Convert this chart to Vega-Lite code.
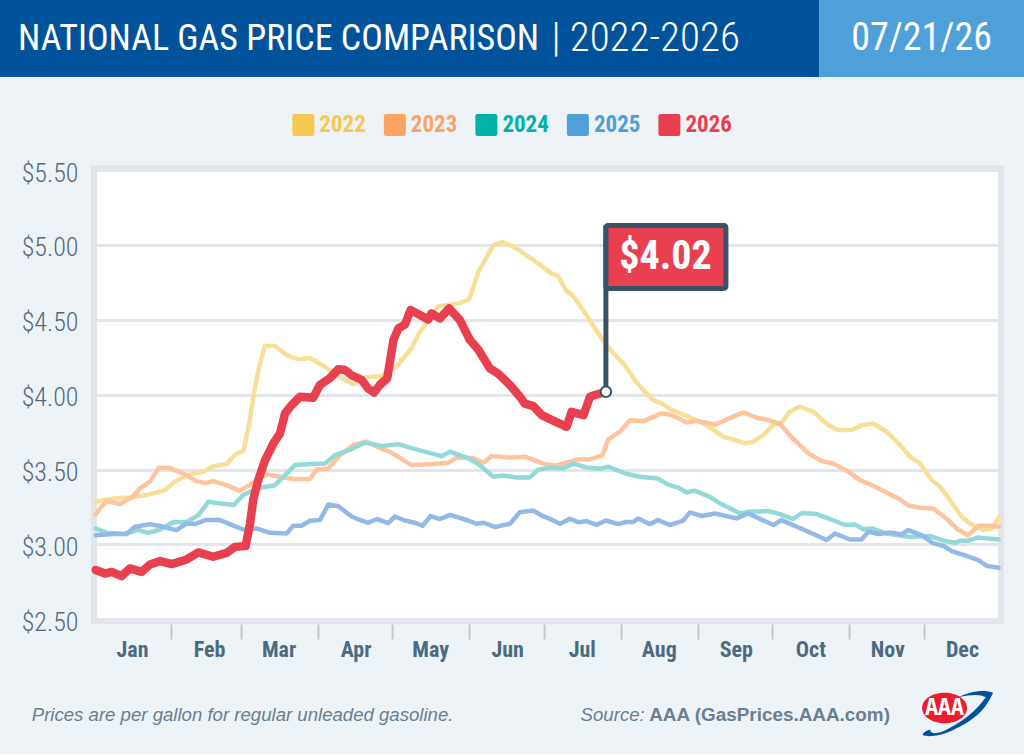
{
  "$schema": "https://vega.github.io/schema/vega-lite/v6.json",
  "description": "National gas price comparison, 2022-2026",
  "background": "#eef3f8",
  "padding": 0,
  "spacing": 0,
  "align": "none",
  "config": {"view": {"stroke": null}, "font": "Roboto Condensed"},
  "resolve": {"scale": {"color": "independent"}},
  "datasets": {
    "prices": [
      {"year":"2022","day":0.7,"price":3.285},{"year":"2022","day":7.7,"price":3.307},{"year":"2022","day":14.4,"price":3.314},{"year":"2022","day":21.2,"price":3.33},{"year":"2022","day":28.5,"price":3.363},{"year":"2022","day":32.6,"price":3.42},{"year":"2022","day":37.3,"price":3.463},{"year":"2022","day":44,"price":3.486},{"year":"2022","day":48,"price":3.523},{"year":"2022","day":53.4,"price":3.537},{"year":"2022","day":56.7,"price":3.6},{"year":"2022","day":60.1,"price":3.626},{"year":"2022","day":62,"price":3.764},{"year":"2022","day":64.8,"price":4.05},{"year":"2022","day":66.8,"price":4.21},{"year":"2022","day":68.8,"price":4.325},{"year":"2022","day":72.8,"price":4.325},{"year":"2022","day":77.5,"price":4.265},{"year":"2022","day":82.2,"price":4.236},{"year":"2022","day":86.9,"price":4.245},{"year":"2022","day":93,"price":4.187},{"year":"2022","day":97.6,"price":4.13},{"year":"2022","day":104.4,"price":4.07},{"year":"2022","day":109.7,"price":4.116},{"year":"2022","day":115.8,"price":4.125},{"year":"2022","day":121.8,"price":4.19},{"year":"2022","day":127.8,"price":4.31},{"year":"2022","day":130.5,"price":4.4},{"year":"2022","day":138.5,"price":4.59},{"year":"2022","day":146.6,"price":4.61},{"year":"2022","day":151,"price":4.637},{"year":"2022","day":154.7,"price":4.82},{"year":"2022","day":157.4,"price":4.9},{"year":"2022","day":160.7,"price":5.0},{"year":"2022","day":164.7,"price":5.018},{"year":"2022","day":170,"price":4.978},{"year":"2022","day":176.7,"price":4.9},{"year":"2022","day":184.1,"price":4.81},{"year":"2022","day":186.8,"price":4.79},{"year":"2022","day":190.1,"price":4.695},{"year":"2022","day":192.9,"price":4.66},{"year":"2022","day":198.2,"price":4.53},{"year":"2022","day":204.3,"price":4.376},{"year":"2022","day":209,"price":4.276},{"year":"2022","day":213,"price":4.21},{"year":"2022","day":217.7,"price":4.098},{"year":"2022","day":221.7,"price":4.02},{"year":"2022","day":225.1,"price":3.964},{"year":"2022","day":228.4,"price":3.942},{"year":"2022","day":232.4,"price":3.898},{"year":"2022","day":239.8,"price":3.85},{"year":"2022","day":246.5,"price":3.797},{"year":"2022","day":253.2,"price":3.72},{"year":"2022","day":257.3,"price":3.7},{"year":"2022","day":262,"price":3.675},{"year":"2022","day":265.3,"price":3.686},{"year":"2022","day":269.3,"price":3.73},{"year":"2022","day":273.4,"price":3.797},{"year":"2022","day":277,"price":3.82},{"year":"2022","day":280,"price":3.886},{"year":"2022","day":284,"price":3.92},{"year":"2022","day":289.5,"price":3.886},{"year":"2022","day":295.5,"price":3.797},{"year":"2022","day":299.5,"price":3.764},{"year":"2022","day":304.9,"price":3.764},{"year":"2022","day":309,"price":3.797},{"year":"2022","day":313.6,"price":3.808},{"year":"2022","day":319,"price":3.753},{"year":"2022","day":325,"price":3.653},{"year":"2022","day":328.4,"price":3.586},{"year":"2022","day":332.4,"price":3.541},{"year":"2022","day":337.1,"price":3.43},{"year":"2022","day":340.5,"price":3.386},{"year":"2022","day":344.5,"price":3.296},{"year":"2022","day":349.2,"price":3.185},{"year":"2022","day":352.5,"price":3.14},{"year":"2022","day":357.9,"price":3.096},{"year":"2022","day":361.3,"price":3.107},{"year":"2022","day":364.3,"price":3.185},
      {"year":"2023","day":0.7,"price":3.2},{"year":"2023","day":2.4,"price":3.24},{"year":"2023","day":5.1,"price":3.29},{"year":"2023","day":10.5,"price":3.27},{"year":"2023","day":15.8,"price":3.32},{"year":"2023","day":18.5,"price":3.374},{"year":"2023","day":22.5,"price":3.42},{"year":"2023","day":25.9,"price":3.51},{"year":"2023","day":30.6,"price":3.51},{"year":"2023","day":36,"price":3.474},{"year":"2023","day":41.3,"price":3.423},{"year":"2023","day":44.7,"price":3.41},{"year":"2023","day":48,"price":3.423},{"year":"2023","day":53.4,"price":3.396},{"year":"2023","day":58.7,"price":3.358},{"year":"2023","day":62.8,"price":3.4},{"year":"2023","day":69.5,"price":3.468},{"year":"2023","day":74.8,"price":3.452},{"year":"2023","day":80.2,"price":3.437},{"year":"2023","day":86.9,"price":3.437},{"year":"2023","day":89.6,"price":3.5},{"year":"2023","day":94.3,"price":3.508},{"year":"2023","day":99,"price":3.597},{"year":"2023","day":104.4,"price":3.664},{"year":"2023","day":109.7,"price":3.686},{"year":"2023","day":115,"price":3.645},{"year":"2023","day":119,"price":3.62},{"year":"2023","day":127.8,"price":3.53},{"year":"2023","day":135.2,"price":3.535},{"year":"2023","day":142.6,"price":3.546},{"year":"2023","day":145.9,"price":3.58},{"year":"2023","day":152.7,"price":3.575},{"year":"2023","day":156.7,"price":3.546},{"year":"2023","day":160,"price":3.59},{"year":"2023","day":167.4,"price":3.58},{"year":"2023","day":173.5,"price":3.586},{"year":"2023","day":180.8,"price":3.54},{"year":"2023","day":185.5,"price":3.526},{"year":"2023","day":194.9,"price":3.568},{"year":"2023","day":199.6,"price":3.568},{"year":"2023","day":204.6,"price":3.595},{"year":"2023","day":206.9,"price":3.7},{"year":"2023","day":211.6,"price":3.753},{"year":"2023","day":215.7,"price":3.83},{"year":"2023","day":221,"price":3.824},{"year":"2023","day":228.4,"price":3.875},{"year":"2023","day":232.4,"price":3.864},{"year":"2023","day":238.5,"price":3.815},{"year":"2023","day":242.5,"price":3.826},{"year":"2023","day":249.9,"price":3.8},{"year":"2023","day":253.9,"price":3.83},{"year":"2023","day":261.3,"price":3.882},{"year":"2023","day":266.7,"price":3.846},{"year":"2023","day":270.7,"price":3.835},{"year":"2023","day":276.1,"price":3.804},{"year":"2023","day":280.8,"price":3.715},{"year":"2023","day":287.5,"price":3.608},{"year":"2023","day":292.8,"price":3.557},{"year":"2023","day":297.5,"price":3.54},{"year":"2023","day":303.6,"price":3.486},{"year":"2023","day":308.3,"price":3.43},{"year":"2023","day":313.6,"price":3.392},{"year":"2023","day":319.7,"price":3.34},{"year":"2023","day":324.4,"price":3.3},{"year":"2023","day":327.7,"price":3.26},{"year":"2023","day":332.4,"price":3.245},{"year":"2023","day":337.8,"price":3.24},{"year":"2023","day":343.8,"price":3.163},{"year":"2023","day":347.1,"price":3.107},{"year":"2023","day":351.8,"price":3.062},{"year":"2023","day":355.9,"price":3.125},{"year":"2023","day":359.9,"price":3.125},{"year":"2023","day":364.3,"price":3.118},
      {"year":"2024","day":0.7,"price":3.107},{"year":"2024","day":5.1,"price":3.078},{"year":"2024","day":11.8,"price":3.07},{"year":"2024","day":17.8,"price":3.096},{"year":"2024","day":21.9,"price":3.078},{"year":"2024","day":26.6,"price":3.1},{"year":"2024","day":32,"price":3.15},{"year":"2024","day":37.3,"price":3.15},{"year":"2024","day":42,"price":3.196},{"year":"2024","day":46,"price":3.285},{"year":"2024","day":50.7,"price":3.274},{"year":"2024","day":56.3,"price":3.263},{"year":"2024","day":60,"price":3.33},{"year":"2024","day":65.4,"price":3.374},{"year":"2024","day":72.8,"price":3.396},{"year":"2024","day":76.2,"price":3.452},{"year":"2024","day":80.9,"price":3.53},{"year":"2024","day":86.9,"price":3.537},{"year":"2024","day":93,"price":3.541},{"year":"2024","day":97,"price":3.597},{"year":"2024","day":103.7,"price":3.637},{"year":"2024","day":109,"price":3.68},{"year":"2024","day":116.4,"price":3.657},{"year":"2024","day":122.4,"price":3.67},{"year":"2024","day":128.5,"price":3.64},{"year":"2024","day":139.9,"price":3.59},{"year":"2024","day":143.2,"price":3.62},{"year":"2024","day":150,"price":3.58},{"year":"2024","day":154.7,"price":3.537},{"year":"2024","day":160.7,"price":3.452},{"year":"2024","day":164.7,"price":3.46},{"year":"2024","day":170,"price":3.448},{"year":"2024","day":175.4,"price":3.448},{"year":"2024","day":178.8,"price":3.5},{"year":"2024","day":183.5,"price":3.512},{"year":"2024","day":188.8,"price":3.508},{"year":"2024","day":192.9,"price":3.54},{"year":"2024","day":198.2,"price":3.514},{"year":"2024","day":203.6,"price":3.505},{"year":"2024","day":207,"price":3.519},{"year":"2024","day":213.7,"price":3.474},{"year":"2024","day":219.7,"price":3.452},{"year":"2024","day":227,"price":3.44},{"year":"2024","day":231,"price":3.4},{"year":"2024","day":235,"price":3.38},{"year":"2024","day":238.5,"price":3.347},{"year":"2024","day":241.8,"price":3.36},{"year":"2024","day":247.9,"price":3.318},{"year":"2024","day":251.9,"price":3.274},{"year":"2024","day":255.3,"price":3.247},{"year":"2024","day":260,"price":3.207},{"year":"2024","day":263.3,"price":3.218},{"year":"2024","day":271.4,"price":3.223},{"year":"2024","day":276.1,"price":3.203},{"year":"2024","day":281.4,"price":3.17},{"year":"2024","day":284.8,"price":3.21},{"year":"2024","day":290.8,"price":3.203},{"year":"2024","day":296.2,"price":3.17},{"year":"2024","day":302.2,"price":3.13},{"year":"2024","day":306.2,"price":3.134},{"year":"2024","day":309.6,"price":3.102},{"year":"2024","day":313,"price":3.107},{"year":"2024","day":319,"price":3.073},{"year":"2024","day":328.4,"price":3.05},{"year":"2024","day":336.5,"price":3.056},{"year":"2024","day":341.9,"price":3.025},{"year":"2024","day":346.5,"price":3.011},{"year":"2024","day":348.6,"price":3.025},{"year":"2024","day":351.8,"price":3.025},{"year":"2024","day":355.9,"price":3.047},{"year":"2024","day":364,"price":3.033},
      {"year":"2025","day":0.7,"price":3.062},{"year":"2025","day":7.7,"price":3.07},{"year":"2025","day":13.1,"price":3.07},{"year":"2025","day":16.5,"price":3.118},{"year":"2025","day":22.5,"price":3.136},{"year":"2025","day":27.9,"price":3.118},{"year":"2025","day":33.2,"price":3.096},{"year":"2025","day":37.3,"price":3.14},{"year":"2025","day":40.6,"price":3.136},{"year":"2025","day":44.7,"price":3.163},{"year":"2025","day":50.7,"price":3.163},{"year":"2025","day":60,"price":3.1},{"year":"2025","day":65.4,"price":3.107},{"year":"2025","day":70.8,"price":3.078},{"year":"2025","day":77.5,"price":3.073},{"year":"2025","day":80.2,"price":3.125},{"year":"2025","day":83.5,"price":3.125},{"year":"2025","day":86.9,"price":3.158},{"year":"2025","day":90.9,"price":3.163},{"year":"2025","day":94.3,"price":3.267},{"year":"2025","day":98.3,"price":3.255},{"year":"2025","day":103.7,"price":3.187},{"year":"2025","day":106.4,"price":3.167},{"year":"2025","day":110.4,"price":3.145},{"year":"2025","day":114,"price":3.17},{"year":"2025","day":118.4,"price":3.143},{"year":"2025","day":121.1,"price":3.187},{"year":"2025","day":125.1,"price":3.16},{"year":"2025","day":129.2,"price":3.145},{"year":"2025","day":132.2,"price":3.125},{"year":"2025","day":135.5,"price":3.19},{"year":"2025","day":139.2,"price":3.17},{"year":"2025","day":143.3,"price":3.198},{"year":"2025","day":150.6,"price":3.16},{"year":"2025","day":154,"price":3.138},{"year":"2025","day":156.9,"price":3.145},{"year":"2025","day":161.4,"price":3.116},{"year":"2025","day":167.4,"price":3.138},{"year":"2025","day":171.4,"price":3.216},{"year":"2025","day":176.8,"price":3.227},{"year":"2025","day":180.8,"price":3.187},{"year":"2025","day":183.5,"price":3.171},{"year":"2025","day":187.5,"price":3.138},{"year":"2025","day":191.5,"price":3.171},{"year":"2025","day":194.9,"price":3.149},{"year":"2025","day":198.2,"price":3.156},{"year":"2025","day":202.3,"price":3.131},{"year":"2025","day":206,"price":3.16},{"year":"2025","day":211,"price":3.136},{"year":"2025","day":214,"price":3.15},{"year":"2025","day":217,"price":3.15},{"year":"2025","day":219,"price":3.174},{"year":"2025","day":223.7,"price":3.136},{"year":"2025","day":227,"price":3.163},{"year":"2025","day":231.7,"price":3.13},{"year":"2025","day":237,"price":3.158},{"year":"2025","day":239.8,"price":3.214},{"year":"2025","day":244.5,"price":3.19},{"year":"2025","day":249.9,"price":3.207},{"year":"2025","day":258.6,"price":3.174},{"year":"2025","day":263.3,"price":3.207},{"year":"2025","day":273.4,"price":3.13},{"year":"2025","day":276.7,"price":3.163},{"year":"2025","day":287.5,"price":3.085},{"year":"2025","day":294.8,"price":3.03},{"year":"2025","day":298.2,"price":3.073},{"year":"2025","day":304.2,"price":3.033},{"year":"2025","day":308.9,"price":3.033},{"year":"2025","day":311.6,"price":3.085},{"year":"2025","day":315.6,"price":3.07},{"year":"2025","day":320.3,"price":3.08},{"year":"2025","day":325,"price":3.067},{"year":"2025","day":327.7,"price":3.096},{"year":"2025","day":333,"price":3.062},{"year":"2025","day":337.8,"price":3.007},{"year":"2025","day":341.9,"price":2.99},{"year":"2025","day":345.2,"price":2.955},{"year":"2025","day":349.9,"price":2.93},{"year":"2025","day":355.9,"price":2.895},{"year":"2025","day":359.3,"price":2.857},{"year":"2025","day":364,"price":2.844},
      {"year":"2026","day":0.7,"price":2.83},{"year":"2026","day":4.4,"price":2.806},{"year":"2026","day":7.1,"price":2.817},{"year":"2026","day":11.1,"price":2.788},{"year":"2026","day":14.5,"price":2.84},{"year":"2026","day":19.2,"price":2.817},{"year":"2026","day":22.5,"price":2.866},{"year":"2026","day":26.6,"price":2.889},{"year":"2026","day":31.3,"price":2.869},{"year":"2026","day":37.3,"price":2.9},{"year":"2026","day":42,"price":2.947},{"year":"2026","day":48,"price":2.918},{"year":"2026","day":53.4,"price":2.944},{"year":"2026","day":56.7,"price":2.984},{"year":"2026","day":61,"price":2.989},{"year":"2026","day":62.8,"price":3.14},{"year":"2026","day":64.1,"price":3.3},{"year":"2026","day":66.1,"price":3.43},{"year":"2026","day":68.8,"price":3.56},{"year":"2026","day":72.2,"price":3.675},{"year":"2026","day":74.8,"price":3.74},{"year":"2026","day":76.9,"price":3.875},{"year":"2026","day":79.5,"price":3.93},{"year":"2026","day":82.9,"price":3.987},{"year":"2026","day":88.2,"price":3.98},{"year":"2026","day":90.9,"price":4.065},{"year":"2026","day":94.9,"price":4.11},{"year":"2026","day":98.3,"price":4.17},{"year":"2026","day":101,"price":4.165},{"year":"2026","day":103.7,"price":4.13},{"year":"2026","day":107.7,"price":4.1},{"year":"2026","day":110.4,"price":4.04},{"year":"2026","day":112.7,"price":4.015},{"year":"2026","day":115,"price":4.065},{"year":"2026","day":118,"price":4.11},{"year":"2026","day":120.5,"price":4.365},{"year":"2026","day":122.5,"price":4.443},{"year":"2026","day":125.2,"price":4.47},{"year":"2026","day":127.4,"price":4.566},{"year":"2026","day":131.2,"price":4.532},{"year":"2026","day":134.5,"price":4.503},{"year":"2026","day":135.8,"price":4.543},{"year":"2026","day":139.2,"price":4.51},{"year":"2026","day":142.9,"price":4.577},{"year":"2026","day":147.2,"price":4.5},{"year":"2026","day":151.3,"price":4.365},{"year":"2026","day":154.7,"price":4.3},{"year":"2026","day":159.3,"price":4.176},{"year":"2026","day":162.7,"price":4.14},{"year":"2026","day":167.4,"price":4.065},{"year":"2026","day":171.4,"price":3.987},{"year":"2026","day":173.4,"price":3.94},{"year":"2026","day":176.8,"price":3.924},{"year":"2026","day":180.2,"price":3.864},{"year":"2026","day":183.5,"price":3.837},{"year":"2026","day":190.2,"price":3.786},{"year":"2026","day":192.2,"price":3.886},{"year":"2026","day":197,"price":3.864},{"year":"2026","day":199.6,"price":3.987},{"year":"2026","day":201.6,"price":3.998},{"year":"2026","day":206,"price":4.02}
    ],
    "latest": [{"day":206,"price":4.02,"flagTop":5.13,"flagBottom":4.71,"flagEnd":254.3,"labelDay":230,"labelPrice":4.92,"label":"$4.02"}],
    "banner": [{"part":"title","start":0,"end":0.8},{"part":"date","start":0.8,"end":1}],
    "years": [{"year":"2022"},{"year":"2023"},{"year":"2024"},{"year":"2025"},{"year":"2026"}]
  },
  "vconcat": [
    {
      "width": 930,
      "height": 77,
      "layer": [
        {
          "data": {"name": "banner"},
          "mark": {"type": "rect"},
          "encoding": {
            "x": {"field": "start", "type": "quantitative", "scale": {"domain": [0, 1], "range": [-94, 930]}, "axis": null},
            "x2": {"field": "end"},
            "color": {"field": "part", "type": "nominal", "scale": {"domain": ["title", "date"], "range": ["#00529b", "#4f9fd8"]}, "legend": null}
          }
        },
        {
          "data": {"values": [{"text": "NATIONAL GAS PRICE COMPARISON", "at": 0.0176}]},
          "mark": {"type": "text", "color": "white", "fontSize": 36, "align": "left"},
          "encoding": {"x": {"field": "at", "type": "quantitative", "scale": {"domain": [0, 1], "range": [-94, 930]}, "axis": null}, "text": {"field": "text"}}
        },
        {
          "data": {"values": [{"text": "| 2022-2026", "at": 0.5385}]},
          "mark": {"type": "text", "color": "white", "fontSize": 41, "fontWeight": 300, "align": "left"},
          "encoding": {"x": {"field": "at", "type": "quantitative", "scale": {"domain": [0, 1], "range": [-94, 930]}, "axis": null}, "text": {"field": "text"}}
        },
        {
          "data": {"values": [{"text": "07/21/26", "at": 0.9}]},
          "mark": {"type": "text", "color": "white", "fontSize": 38, "align": "center"},
          "encoding": {"x": {"field": "at", "type": "quantitative", "scale": {"domain": [0, 1], "range": [-94, 930]}, "axis": null}, "text": {"field": "text"}}
        }
      ]
    },
    {
      "width": 930,
      "height": 80,
      "data": {"name": "years"},
      "encoding": {
        "x": {"field": "year", "type": "quantitative", "scale": {"domain": [2018.685, 2029.875], "range": [-94, 930], "zero": false}, "axis": null},
        "y": {"datum": 0.4, "type": "quantitative", "scale": {"domain": [0, 1]}, "axis": null},
        "color": {"field": "year", "type": "nominal", "scale": {"domain": ["2022", "2023", "2024", "2025", "2026"], "range": ["#f5c84f", "#fca364", "#00b2a9", "#4f9fd8", "#e94050"]}, "legend": null}
      },
      "layer": [
        {"mark": {"type": "point", "filled": true, "opacity": 1, "size": 484, "shape": "M-0.8,-1 L0.8,-1 Q1,-1 1,-0.8 L1,0.8 Q1,1 0.8,1 L-0.8,1 Q-1,1 -1,0.8 L-1,-0.8 Q-1,-1 -0.8,-1 Z"}},
        {"mark": {"type": "text", "align": "left", "dx": 16, "fontSize": 23, "fontWeight": "bold"}, "encoding": {"text": {"field": "year"}}}
      ]
    },
    {
      "width": 907,
      "height": 453,
      "view": {"fill": "white", "stroke": "#e3e5ea", "strokeWidth": 6},
      "encoding": {
        "x": {
          "field": "day",
          "type": "quantitative",
          "title": null,
          "scale": {"domain": [0, 365], "nice": false},
          "axis": {
            "values": [0, 31, 59, 90, 120, 151, 181, 212, 243, 273, 304, 334],
            "labelExpr": "timeFormat(datetime(2026, 0, 1 + datum.value), '%b')",
            "labelOffset": 38,
            "labelFontSize": 22,
            "labelFontWeight": "bold",
            "labelColor": "#4d6b80",
            "labelPadding": 0,
            "labelFlush": false,
            "labelOverlap": false,
            "offset": 3,
            "tickSize": 15,
            "tickWidth": 2,
            "tickColor": {"condition": {"test": "datum.value === 0", "value": "transparent"}, "value": "#c3c8ce"},
            "domain": false,
            "grid": false
          }
        },
        "y": {
          "field": "price",
          "type": "quantitative",
          "title": null,
          "scale": {"domain": [2.489, 5.514], "nice": false, "zero": false},
          "axis": {
            "values": [2.5, 3, 3.5, 4, 4.5, 5, 5.5],
            "format": "$.2f",
            "labelFontSize": 26,
            "labelFontWeight": 300,
            "labelColor": "#52697d",
            "labelPadding": 16,
            "labelBaseline": "middle",
            "labelOffset": 3,
            "minExtent": 91,
            "maxExtent": 91,
            "ticks": false,
            "domain": false,
            "gridColor": "#e3e5ea",
            "gridWidth": 3,
            "labelOverlap": false
          }
        }
      },
      "layer": [
        {
          "data": {"name": "prices"},
          "transform": [{"filter": "datum.year !== '2026'"}],
          "mark": {"type": "line", "strokeWidth": 4.5, "strokeJoin": "round", "strokeCap": "round"},
          "encoding": {
            "color": {
              "field": "year",
              "type": "nominal",
              "legend": null,
              "scale": {"domain": ["2022", "2023", "2024", "2025", "2026"], "range": ["#f8df97", "#fdc49d", "#94d9d9", "#93bae6", "#e94050"]}
            }
          }
        },
        {
          "data": {"name": "prices"},
          "transform": [{"filter": "datum.year === '2026'"}],
          "mark": {"type": "line", "strokeWidth": 8.5, "strokeJoin": "round", "strokeCap": "round"},
          "encoding": {"color": {"field": "year", "type": "nominal", "legend": null}}
        },
        {
          "data": {"name": "latest"},
          "mark": {"type": "rule", "color": "#3a5266", "strokeWidth": 5},
          "encoding": {"y2": {"field": "flagTop"}}
        },
        {
          "data": {"name": "latest"},
          "mark": {"type": "rect", "fill": "#e94050", "stroke": "#3a5266", "strokeWidth": 5, "cornerRadius": 2},
          "encoding": {
            "x2": {"field": "flagEnd"},
            "y": {"field": "flagBottom", "type": "quantitative"},
            "y2": {"field": "flagTop"}
          }
        },
        {
          "data": {"name": "latest"},
          "mark": {"type": "text", "color": "white", "fontSize": 40, "fontWeight": "bold"},
          "encoding": {
            "x": {"field": "labelDay", "type": "quantitative"},
            "y": {"field": "labelPrice", "type": "quantitative"},
            "text": {"field": "label"}
          }
        },
        {
          "data": {"name": "latest"},
          "mark": {"type": "point", "filled": true, "fill": "white", "stroke": "#3a5266", "strokeWidth": 2, "size": 110, "opacity": 1}
        }
      ]
    },
    {
      "width": 930,
      "height": 91,
      "data": {"values": [{"name": "footer"}]},
      "encoding": {
        "y": {"datum": 0.429, "type": "quantitative", "scale": {"domain": [0, 1]}, "axis": null}
      },
      "layer": [
        {"mark": {"type": "text", "text": "Prices are per gallon for regular unleaded gasoline.", "font": "Liberation Sans", "fontStyle": "italic", "fontSize": 18.6, "color": "#6a7f90", "align": "left"}, "encoding": {"x": {"datum": 0.031, "type": "quantitative", "scale": {"domain": [0, 1], "range": [-94, 930]}, "axis": null}}},
        {"mark": {"type": "text", "text": "Source:", "font": "Liberation Sans", "fontStyle": "italic", "fontSize": 18.6, "color": "#6a7f90", "align": "left"}, "encoding": {"x": {"datum": 0.567, "type": "quantitative", "scale": {"domain": [0, 1], "range": [-94, 930]}, "axis": null}}},
        {"mark": {"type": "text", "text": "AAA (GasPrices.AAA.com)", "font": "Liberation Sans", "fontWeight": "bold", "fontSize": 18.9, "color": "#6a7f90", "align": "left"}, "encoding": {"x": {"datum": 0.634, "type": "quantitative", "scale": {"domain": [0, 1], "range": [-94, 930]}, "axis": null}}},
        {"mark": {"type": "point", "filled": true, "opacity": 1, "color": "#00529b", "size": 5476, "shape": "M-0.95,0.57 C-0.8,0.65 -0.4,0.57 -0.1,0.42 C0.3,0.23 0.7,0 0.95,-0.57 C0.7,-0.68 0.3,-0.6 0,-0.45 C0.4,-0.53 0.6,-0.53 0.75,-0.45 C0.5,-0.08 0.1,0.23 -0.3,0.42 C-0.5,0.53 -0.75,0.57 -0.75,0.42 C-0.85,0.45 -0.95,0.5 -0.95,0.57 Z"}, "encoding": {"x": {"datum": 0.9355, "type": "quantitative", "scale": {"domain": [0, 1], "range": [-94, 930]}, "axis": null}, "y": {"datum": 0.44, "type": "quantitative", "scale": {"domain": [0, 1]}, "axis": null}}},
        {"mark": {"type": "point", "filled": true, "opacity": 1, "color": "#ed1c2e", "size": 2025, "shape": "M-1,0 A1,0.68 0 1 1 1,0 A1,0.68 0 1 1 -1,0 Z"}, "encoding": {"x": {"datum": 0.9224, "type": "quantitative", "scale": {"domain": [0, 1], "range": [-94, 930]}, "axis": null}, "y": {"datum": 0.505, "type": "quantitative", "scale": {"domain": [0, 1]}, "axis": null}}},
        {"mark": {"type": "text", "text": "AAA", "font": "Open Sans Condensed", "fontWeight": "bold", "fontSize": 24, "color": "white"}, "encoding": {"x": {"datum": 0.9224, "type": "quantitative", "scale": {"domain": [0, 1], "range": [-94, 930]}, "axis": null}, "y": {"datum": 0.505, "type": "quantitative", "scale": {"domain": [0, 1]}, "axis": null}}}
      ]
    }
  ]
}
